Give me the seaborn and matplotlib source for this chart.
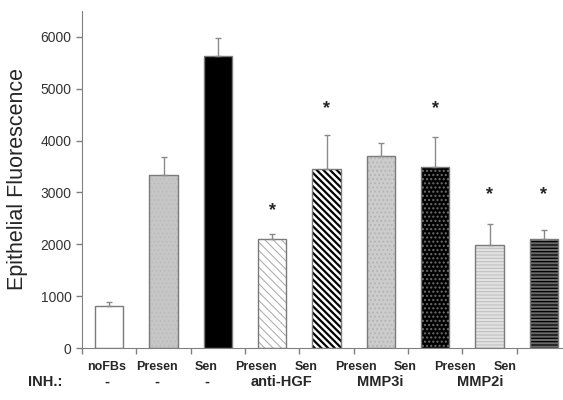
import numpy as np
import matplotlib
matplotlib.use('Agg')
import matplotlib.pyplot as plt
import seaborn as sns

# Values
bar_ids = ['b0', 'b1', 'b2', 'b3', 'b4', 'b5', 'b6', 'b7', 'b8']
cell_labels = ['noFBs', 'Presen', 'Sen', 'Presen', 'Sen', 'Presen', 'Sen', 'Presen', 'Sen']
means = [815, 3345, 5640, 2095, 3445, 3705, 3485, 1985, 2105]
errors = [75, 335, 340, 100, 670, 255, 585, 405, 165]
star_bars = [3, 4, 6, 7, 8]
star_levels = [2650, 4620, 4620, 2950, 2950]
inh_labels = ['-', '-', '-', 'anti-HGF', 'MMP3i', 'MMP2i']
inh_slots = [0, 1, 2, 3.5, 5.5, 7.5]

# Fill styles
face_colors = ['white', '#c6c6c6', 'black', 'white', 'white', '#cccccc', 'black', '#e2e2e2', '#6a6a6a']
hatches = [None, '....', None, '\\\\\\\\', '\\\\\\\\\\', '....', '....', '-----', '-----']
hatch_colors = ['#808080', '#bababa', '#808080', '#b0b0b0', 'black', '#b4b4b4', '#6e6e6e', '#c0c0c0', 'black']
hatch_widths = [0.8, 0.6, 0.8, 0.8, 1.6, 0.8, 1.0, 0.8, 0.9]

sns.set_style('ticks')
plt.rcParams['font.family'] = ['Liberation Sans', 'DejaVu Sans']
plt.rcParams['hatch.linewidth'] = 0.8

fig = plt.figure(figsize=(5.63, 4), dpi=100)
ax = fig.add_axes([82 / 563, 52 / 400, 489 / 563, 337 / 400])

sns.barplot(x=bar_ids, y=means, hue=bar_ids, palette=face_colors, legend=False,
            saturation=1, width=0.52, linewidth=0, errorbar=None, ax=ax)
for patch, h, hc, hw in zip(ax.patches, hatches, hatch_colors, hatch_widths):
    patch.set_edgecolor(hc)
    if h:
        patch.set_hatch(h)
        if hasattr(patch, 'set_hatch_linewidth'):
            patch.set_hatch_linewidth(hw)

# grey outline on top
sns.barplot(x=bar_ids, y=means, fill=False, color='#7a7a7a', saturation=1,
            width=0.52, linewidth=1, errorbar=None, ax=ax)

ax.errorbar(np.arange(len(means)), means, yerr=[np.zeros(len(means)), errors],
            fmt='none', ecolor='#8a8a8a', elinewidth=1, capsize=2, capthick=1, zorder=3)

for i, lvl in zip(star_bars, star_levels):
    ax.text(i, lvl, '*', ha='center', va='center', fontsize=13, fontweight='bold')

ax.set_xlim(-0.5, 8.5)
ax.set_ylim(0, 6500)
ax.set_yticks(np.arange(0, 7000, 1000))
ax.set_xticks(np.arange(-0.5, 9, 1))
ax.set_xticklabels([])
ax.tick_params(axis='y', labelsize=10, labelcolor='#333333', color='#808080', length=4, width=1)
ax.tick_params(axis='x', color='#808080', length=4, width=1)
for s in ['top', 'right']:
    ax.spines[s].set_visible(False)
for s in ['left', 'bottom']:
    ax.spines[s].set_color('#808080')
ax.set_xlabel('')
ax.set_ylabel('Epithelial Fluorescence', fontsize=15.5, labelpad=9)

# category rows under the axis
x0, step = 107, 49.75
for i, lab in enumerate(cell_labels):
    fig.text((x0 + step * i) / 563, 1 - 367 / 400, lab, ha='center', va='center',
             fontsize=9, fontweight='bold')
fig.text(45 / 563, 1 - 382 / 400, 'INH.:', ha='center', va='center', fontsize=10.5, fontweight='bold')
for slot, lab in zip(inh_slots, inh_labels):
    fig.text((x0 + step * slot) / 563, 1 - 382 / 400, lab, ha='center', va='center',
             fontsize=10.5, fontweight='bold')

fig.savefig('out.png', dpi=100)
